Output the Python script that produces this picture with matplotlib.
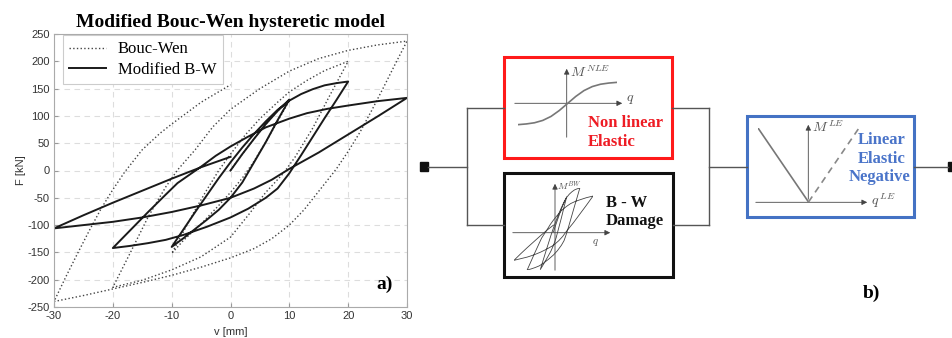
import matplotlib.pyplot as plt
from matplotlib.patches import Rectangle

plt.rcParams['font.family'] = 'Liberation Sans'
plt.rcParams['mathtext.fontset'] = 'cm'
plt.rcParams['axes.unicode_minus'] = False

# --- Modified Bouc-Wen branches (v in mm, F in kN)
# path: 0 -> 10 -> -10 -> 20 -> -20 -> 30 -> -30 -> 0
mbw_v1 = [0, 2, 4, 6, 8, 10]
mbw_f1 = [0, 30, 58, 85, 109, 130]
mbw_v2 = [10, 8, 6, 4, 2, 0, -2, -4, -6, -8, -10]
mbw_f2 = [130, 92, 52, 15, -22, -50, -72, -90, -107, -124, -140]
mbw_v3 = [-10, -8, -6, -4, -2, 0, 2, 4, 6, 8, 10, 12, 14, 16, 18, 20]
mbw_f3 = [-140, -108, -76, -45, -14, 15, 42, 67, 90, 111, 128, 140, 149, 156, 160, 163]
mbw_v4 = [20, 18, 16, 14, 12, 10, 8, 6, 3, 0, -4, -8, -11, -14, -17, -20]
mbw_f4 = [163, 129, 96, 62, 28, -5, -33, -50, -70, -86, -103, -118, -127, -133, -138, -142]
mbw_v5 = [-20, -17, -14, -11, -9, -7, -5, -2.5, 0, 3, 6, 10, 13, 16.5, 20, 25, 30]
mbw_f5 = [-142, -109, -76, -44, -23, -8, 7, 27, 44, 62, 79, 95, 105, 113, 119, 127, 133]
mbw_v6 = [30, 25, 20, 15, 10, 7, 4, 0, -5, -10, -15, -20, -25, -30]
mbw_f6 = [133, 99, 66, 33, 3, -17, -33, -50, -64, -76, -86, -94, -100, -106]
mbw_v7 = [-30, -25, -20, -15, -10, -5, 0]
mbw_f7 = [-106, -82, -59, -37, -15, 6, 25]

# --- classic Bouc-Wen branches
bw_v1 = [0, 2, 4, 6, 8, 10]
bw_f1 = [0, 30, 58, 85, 109, 128]
bw_v2 = [10, 8, 6, 4, 2, 0, -2, -5, -8, -10]
bw_f2 = [128, 90, 52, 17, -14, -40, -64, -98, -128, -152]
bw_v3 = [-10, -8, -6, -4, -2, 0, 2.5, 5, 8, 10, 13, 16, 20]
bw_f3 = [-152, -112, -72, -35, 0, 30, 65, 95, 125, 144, 165, 183, 200]
bw_v4 = [20, 17, 14, 11, 9, 6, 3, 0, -5, -10, -15, -20]
bw_f4 = [200, 140, 78, 25, -5, -40, -82, -122, -158, -182, -201, -214]
bw_v5 = [-20, -17, -14, -11, -9, -6, -3, 0, 5, 10, 15, 20, 25, 30]
bw_f5 = [-214, -150, -85, -30, 1, 38, 80, 112, 150, 182, 205, 220, 230, 237]
bw_v6 = [30, 28, 26, 24, 22, 20, 18, 15, 12.5, 10, 7, 4, 0, -5, -10, -15, -20, -25, -30]
bw_f6 = [237, 195, 152, 110, 70, 35, 3, -38, -72, -100, -125, -143, -160, -177, -192, -205, -217, -229, -240]
bw_v7 = [-30, -28, -26, -24, -22, -20, -18, -15, -12, -10, -5, 0]
bw_f7 = [-240, -195, -152, -110, -70, -35, -3, 38, 68, 85, 125, 157]

mbw_v = mbw_v1 + mbw_v2 + mbw_v3 + mbw_v4 + mbw_v5 + mbw_v6 + mbw_v7
mbw_f = mbw_f1 + mbw_f2 + mbw_f3 + mbw_f4 + mbw_f5 + mbw_f6 + mbw_f7
bw_v = bw_v1 + bw_v2 + bw_v3 + bw_v4 + bw_v5 + bw_v6 + bw_v7
bw_f = bw_f1 + bw_f2 + bw_f3 + bw_f4 + bw_f5 + bw_f6 + bw_f7

# schematic curves in the diagram boxes
sig_q = [-3, -2.5, -2, -1.5, -1, -0.5, 0, 0.5, 1, 1.5, 2, 2.5, 3]
sig_m = [-0.9, -0.87, -0.82, -0.72, -0.55, -0.3, 0, 0.3, 0.55, 0.72, 0.82, 0.87, 0.9]
le_q_solid = [-1, 0]
le_m_solid = [1, 0]
le_q_dash = [0, 1]
le_m_dash = [0, 1]

W, H = 952, 338
fig = plt.figure(figsize=(W / 100, H / 100), dpi=100)


def frac(x0, y0, x1, y1):
    # pixel box (origin top-left) -> figure fraction rect
    return [x0 / W, 1 - y1 / H, (x1 - x0) / W, (y1 - y0) / H]


serif = 'Liberation Serif'

# ---------------- a) hysteresis plot
ax = fig.add_axes(frac(54, 34, 407, 307))
ax.plot(bw_v, bw_f, linestyle=':', color='#444444', lw=1.0, label='Bouc-Wen')
ax.plot(mbw_v, mbw_f, '-', color='#1a1a1a', lw=1.4, label='Modified B-W')
ax.set_xlim(-30, 30)
ax.set_ylim(-250, 250)
ax.set_xticks(range(-30, 31, 10))
ax.set_yticks(range(-250, 251, 50))
ax.grid(True, linestyle=(0, (5, 4)), color='#dddddd', lw=0.8)
ax.set_axisbelow(True)
ax.tick_params(direction='in', length=3, color='#999999', labelsize=8,
               labelcolor='#333333', pad=3)
for s in ax.spines.values():
    s.set_color('#aaaaaa')
ax.set_xlabel('v [mm]', fontsize=8, color='#333333', labelpad=4)
ax.set_ylabel('F [kN]', fontsize=8, color='#333333', labelpad=1)
ax.set_title('Modified Bouc-Wen hysteretic model', fontfamily=serif,
             fontweight='bold', fontsize=14, pad=5)
leg = ax.legend(loc='upper left', bbox_to_anchor=(0.025, 0.997), borderaxespad=0,
                prop={'family': serif, 'size': 12}, handlelength=2.2,
                fancybox=False, framealpha=1, labelspacing=0.25,
                borderpad=0.4, handletextpad=0.7)
leg.get_frame().set_edgecolor('#cccccc')
leg.get_frame().set_linewidth(0.8)
ax.text(0.96, 0.05, 'a)', transform=ax.transAxes, ha='right', va='bottom',
        fontfamily=serif, fontweight='bold', fontsize=14)

# ---------------- b) rheological diagram (pixel coordinates)
ax_d = fig.add_axes([0, 0, 1, 1])
ax_d.set_xlim(0, W)
ax_d.set_ylim(H, 0)
ax_d.axis('off')
ax_d.patch.set_alpha(0)

wire = dict(color='#555555', lw=1.0)
ax_d.plot([428, 467], [167, 167], **wire)
ax_d.plot([467, 467], [108, 225], **wire)
ax_d.plot([467, 504], [108, 108], **wire)
ax_d.plot([467, 504], [225, 225], **wire)
ax_d.plot([672, 709], [108, 108], **wire)
ax_d.plot([673, 709], [225, 225], **wire)
ax_d.plot([709, 709], [108, 225], **wire)
ax_d.plot([709, 747], [167, 167], **wire)
ax_d.plot([914, 948], [167, 167], **wire)
ax_d.add_patch(Rectangle((420, 162), 8, 9, color='#111111'))
ax_d.add_patch(Rectangle((948, 162), 5, 9, color='#111111'))

ax_d.add_patch(Rectangle((504, 57), 168, 101, fill=False, ec='#ff1a1a', lw=2.2))
ax_d.add_patch(Rectangle((504, 173), 169, 104, fill=False, ec='#111111', lw=2.2))
ax_d.add_patch(Rectangle((747, 116), 167, 101, fill=False, ec='#4472c4', lw=2.2))

arrow = dict(arrowstyle='-|>', color='#444444', lw=0.6, mutation_scale=8)


def mini_axes(x0, x1, y_h, x_v, y_top, y_bot):
    ax_d.annotate('', xy=(x1, y_h), xytext=(x0, y_h), arrowprops=arrow)
    ax_d.annotate('', xy=(x_v, y_top), xytext=(x_v, y_bot), arrowprops=arrow)


mini_axes(512, 625, 103.3, 566.7, 66, 140)
mini_axes(510, 613, 232.7, 555, 181, 273)
mini_axes(753, 870, 202.3, 808.3, 122, 202)

lab = dict(color='#555555', ha='left', va='center')
ax_d.text(570, 72, r'$M^{\,NLE}$', fontsize=10, **lab)
ax_d.text(626, 99, r'$q$', fontsize=10, **lab)
ax_d.text(557, 186, r'$M^{BW}$', fontsize=7, **lab)
ax_d.text(592, 242, r'$q$', fontsize=8, **lab)
ax_d.text(812, 127, r'$M^{\,LE}$', fontsize=10, **lab)
ax_d.text(871, 201, r'$q^{\,LE}$', fontsize=10, **lab)

bold = dict(fontfamily=serif, fontweight='bold', fontsize=12, va='center')
ax_d.text(588, 123, 'Non linear', color='#ee1c24', ha='left', **bold)
ax_d.text(588, 142, 'Elastic', color='#ee1c24', ha='left', **bold)
ax_d.text(606, 203, 'B - W', color='#111111', ha='left', **bold)
ax_d.text(606, 221, 'Damage', color='#111111', ha='left', **bold)
blue = '#4a74c9'
ax_d.text(882, 140, 'Linear', color=blue, ha='center', **bold)
ax_d.text(882, 159, 'Elastic', color=blue, ha='center', **bold)
ax_d.text(880, 177, 'Negative', color=blue, ha='center', **bold)
ax_d.text(871, 293, 'b)', fontfamily=serif, fontweight='bold', fontsize=14,
          ha='center', va='center')

# small curves inside the boxes
ax_s = fig.add_axes(frac(518, 80, 617, 127))
ax_s.plot(sig_q, sig_m, color='#777777', lw=1.2)
ax_s.set_xlim(-3, 3)
ax_s.set_ylim(-1, 1)
ax_s.axis('off')

ax_h = fig.add_axes(frac(514, 188, 593, 270))
ax_h.plot(mbw_v, mbw_f, color='#444444', lw=0.6)
ax_h.set_xlim(-30, 30)
ax_h.set_ylim(-142, 163)
ax_h.axis('off')

ax_l = fig.add_axes(frac(758, 128, 859, 202))
ax_l.plot(le_q_solid, le_m_solid, color='#777777', lw=1.2)
ax_l.plot(le_q_dash, le_m_dash, color='#888888', lw=1.2, linestyle=(0, (4, 3)))
ax_l.set_xlim(-1, 1)
ax_l.set_ylim(0, 1)
ax_l.axis('off')

fig.savefig('out.png', dpi=100)
